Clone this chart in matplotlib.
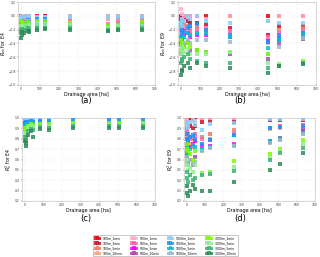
import matplotlib
matplotlib.use("Agg")
import matplotlib.pyplot as plt
import numpy as np

areas = [1, 4, 8, 18, 35, 45, 83, 128, 257, 453, 507, 633]

labels = ["100m_1min", "100m_3min", "100m_5min", "100m_10min",
          "500m_1min", "500m_3min", "500m_5min", "500m_10min",
          "1000m_1min", "1000m_3min", "1000m_5min", "1000m_10min",
          "3000m_1min", "3000m_3min", "3000m_5min", "3000m_10min"]

colors = ["#e8000b", "#c8102e", "#f07860", "#f4a582",
          "#ffb0c8", "#ff69b4", "#ff00ff", "#a050b0",
          "#87cefa", "#1e90ff", "#00c0d0", "#9fb6cd",
          "#7cfc00", "#90ee90", "#3cb371", "#2e8b57"]

rev_e4 = [
    [0.00, 0.00, 0.00, 0.00, 0.00, 0.00, 0.00, 0.00, 0.00, 0.00, 0.00, 0.00],
    [-0.02, -0.01, 0.00, -0.01, 0.00, -0.01, -0.01, 0.00, -0.01, -0.01, -0.02, -0.01],
    [-0.05, -0.04, -0.03, -0.03, -0.02, -0.04, -0.03, -0.02, -0.02, -0.03, -0.10, -0.08],
    [-0.10, -0.08, -0.06, -0.07, -0.05, -0.06, -0.05, -0.04, -0.04, -0.05, -0.12, -0.10],
    [-0.01, 0.00, -0.01, 0.00, -0.01, 0.00, -0.01, -0.01, 0.00, 0.00, 0.00, 0.00],
    [-0.06, -0.05, -0.04, -0.05, -0.04, -0.06, -0.05, -0.04, -0.05, -0.12, -0.08, -0.07],
    [-0.15, -0.12, -0.10, -0.12, -0.10, -0.14, -0.12, -0.11, -0.12, -0.17, -0.15, -0.13],
    [-0.22, -0.18, -0.15, -0.18, -0.16, -0.20, -0.17, -0.15, -0.16, -0.20, -0.18, -0.17],
    [-0.03, -0.02, -0.01, -0.02, 0.00, -0.01, -0.01, -0.02, -0.01, -0.02, -0.01, -0.01],
    [-0.12, -0.10, -0.08, -0.10, -0.06, -0.09, -0.05, -0.04, -0.13, -0.15, -0.13, -0.12],
    [-0.18, -0.15, -0.12, -0.15, -0.12, -0.16, -0.13, -0.12, -0.15, -0.20, -0.17, -0.16],
    [-0.25, -0.20, -0.18, -0.21, -0.19, -0.22, -0.20, -0.18, -0.18, -0.22, -0.20, -0.19],
    [-0.08, -0.10, -0.09, -0.11, -0.07, -0.10, -0.08, -0.07, -0.10, -0.14, -0.13, -0.09],
    [-0.15, -0.16, -0.14, -0.15, -0.13, -0.15, -0.12, -0.12, -0.13, -0.17, -0.15, -0.14],
    [-0.24, -0.22, -0.19, -0.21, -0.18, -0.20, -0.18, -0.17, -0.18, -0.20, -0.19, -0.18],
    [-0.32, -0.28, -0.24, -0.25, -0.22, -0.23, -0.21, -0.19, -0.20, -0.22, -0.21, -0.20],
]

rev_e9 = [
    [0.00, 0.00, 0.00, 0.00, 0.00, 0.00, 0.00, 0.00, 0.00, 0.00, 0.00, 0.00],
    [-0.05, -0.02, 0.00, -0.03, -0.08, -0.10, -0.10, -0.12, -0.18, -0.27, -0.15, -0.15],
    [-0.15, -0.10, -0.08, -0.12, -0.15, -0.18, -0.18, -0.20, -0.22, -0.35, -0.20, -0.18],
    [-0.25, -0.20, -0.18, -0.20, -0.22, -0.25, -0.22, -0.25, -0.25, -0.40, -0.28, -0.22],
    [0.10, 0.02, -0.05, 0.00, -0.02, 0.00, 0.00, -0.05, 0.00, -0.08, 0.00, 0.00],
    [-0.20, -0.15, -0.22, -0.18, -0.15, -0.22, -0.20, -0.18, -0.22, -0.30, -0.25, -0.20],
    [-0.38, -0.32, -0.30, -0.28, -0.25, -0.30, -0.28, -0.28, -0.30, -0.37, -0.33, -0.28],
    [-0.52, -0.45, -0.48, -0.42, -0.38, -0.50, -0.50, -0.52, -0.55, -0.63, -0.40, -0.33],
    [-0.10, -0.05, -0.15, -0.08, 0.00, -0.05, 0.00, -0.08, -0.10, -0.08, -0.10, -0.10],
    [-0.30, -0.25, -0.20, -0.22, -0.18, -0.15, -0.12, -0.20, -0.28, -0.38, -0.28, -0.25],
    [-0.42, -0.35, -0.32, -0.30, -0.25, -0.28, -0.25, -0.25, -0.30, -0.47, -0.35, -0.28],
    [-0.55, -0.48, -0.42, -0.40, -0.35, -0.40, -0.35, -0.35, -0.38, -0.55, -0.45, -0.32],
    [-0.35, -0.40, -0.50, -0.45, -0.40, -0.45, -0.50, -0.52, -0.52, -0.55, -0.70, -0.65],
    [-0.50, -0.45, -0.55, -0.52, -0.48, -0.55, -0.55, -0.55, -0.53, -0.68, -0.70, -0.67],
    [-0.68, -0.62, -0.65, -0.60, -0.55, -0.62, -0.65, -0.68, -0.68, -0.75, -0.72, -0.68],
    [-0.85, -0.78, -0.80, -0.72, -0.68, -0.75, -0.68, -0.72, -0.75, -0.82, -0.73, -0.70],
]

r2_e4 = [
    [1.00, 1.00, 1.00, 1.00, 1.00, 1.00, 1.00, 1.00, 1.00, 1.00, 1.00, 1.00],
    [0.99, 1.00, 0.99, 1.00, 1.00, 1.00, 1.00, 1.00, 0.99, 0.99, 0.99, 0.99],
    [0.98, 0.99, 0.98, 0.99, 0.99, 0.99, 0.99, 0.99, 0.98, 0.98, 0.98, 0.98],
    [0.96, 0.97, 0.96, 0.98, 0.98, 0.98, 0.98, 0.98, 0.97, 0.97, 0.97, 0.97],
    [1.00, 0.99, 1.00, 1.00, 1.00, 1.00, 1.00, 1.00, 1.00, 1.00, 1.00, 1.00],
    [0.97, 0.98, 0.97, 0.98, 0.98, 0.98, 0.98, 0.98, 0.98, 0.98, 0.98, 0.98],
    [0.94, 0.95, 0.93, 0.96, 0.96, 0.96, 0.96, 0.96, 0.96, 0.96, 0.96, 0.96],
    [0.90, 0.92, 0.90, 0.94, 0.94, 0.94, 0.94, 0.94, 0.94, 0.94, 0.94, 0.94],
    [0.99, 0.99, 0.98, 0.99, 0.99, 0.99, 1.00, 0.99, 1.00, 1.00, 1.00, 1.00],
    [0.95, 0.96, 0.94, 0.96, 0.97, 0.96, 0.97, 0.97, 0.98, 0.98, 0.98, 0.98],
    [0.92, 0.93, 0.90, 0.94, 0.95, 0.94, 0.95, 0.95, 0.96, 0.96, 0.96, 0.96],
    [0.88, 0.90, 0.87, 0.92, 0.93, 0.92, 0.93, 0.93, 0.95, 0.95, 0.95, 0.95],
    [0.90, 0.88, 0.86, 0.92, 0.94, 0.93, 0.94, 0.94, 0.95, 0.94, 0.95, 0.95],
    [0.86, 0.85, 0.82, 0.90, 0.92, 0.91, 0.92, 0.92, 0.93, 0.93, 0.93, 0.94],
    [0.82, 0.82, 0.78, 0.87, 0.89, 0.88, 0.91, 0.90, 0.92, 0.92, 0.92, 0.92],
    [0.78, 0.76, 0.73, 0.84, 0.87, 0.82, 0.89, 0.88, 0.90, 0.90, 0.90, 0.90],
]

r2_e9 = [
    [1.00, 1.00, 1.00, 1.00, 1.00, 1.00, 1.00, 1.00, 1.00, 1.00, 1.00, 1.00],
    [0.95, 0.98, 0.96, 0.92, 0.90, 0.92, 0.96, 0.97, 0.96, 0.98, 0.98, 0.98],
    [0.88, 0.90, 0.85, 0.82, 0.80, 0.85, 0.82, 0.85, 0.88, 0.90, 0.92, 0.93],
    [0.80, 0.82, 0.78, 0.75, 0.72, 0.78, 0.75, 0.79, 0.84, 0.89, 0.90, 0.92],
    [0.97, 1.00, 0.94, 0.96, 0.98, 0.97, 1.00, 1.00, 1.00, 1.00, 1.00, 1.00],
    [0.85, 0.88, 0.82, 0.80, 0.82, 0.84, 0.80, 0.80, 0.85, 0.90, 0.91, 0.93],
    [0.72, 0.75, 0.70, 0.72, 0.75, 0.78, 0.73, 0.73, 0.75, 0.78, 0.80, 0.87],
    [0.62, 0.65, 0.58, 0.60, 0.55, 0.62, 0.69, 0.72, 0.74, 0.77, 0.81, 0.88],
    [0.93, 0.95, 0.90, 0.96, 0.97, 0.93, 0.88, 0.94, 0.95, 0.99, 0.99, 0.99],
    [0.80, 0.85, 0.78, 0.82, 0.84, 0.80, 0.75, 0.79, 0.84, 0.90, 0.91, 0.92],
    [0.68, 0.72, 0.65, 0.70, 0.74, 0.72, 0.70, 0.72, 0.74, 0.78, 0.80, 0.86],
    [0.58, 0.62, 0.55, 0.60, 0.56, 0.58, 0.68, 0.71, 0.73, 0.76, 0.79, 0.85],
    [0.70, 0.75, 0.68, 0.65, 0.60, 0.68, 0.47, 0.48, 0.59, 0.65, 0.70, 0.79],
    [0.55, 0.60, 0.50, 0.52, 0.48, 0.55, 0.46, 0.47, 0.53, 0.61, 0.68, 0.75],
    [0.42, 0.48, 0.38, 0.45, 0.40, 0.42, 0.45, 0.46, 0.49, 0.60, 0.66, 0.71],
    [0.28, 0.34, 0.25, 0.30, 0.35, 0.32, 0.30, 0.30, 0.38, 0.50, 0.56, 0.66],
]

W, H = 320, 257
fig = plt.figure(figsize=(W / 100, H / 100), dpi=100)


def box(l, r, t, b):
    return [l / W, 1 - b / H, (r - l) / W, (b - t) / H]


panels = [
    (box(18, 155, 2, 85), rev_e4, "$R_{ev}$ for E4", (-1.0, 0.2), 0.2, "(a)", 86, 100.5),
    (box(178, 316, 2, 85), rev_e9, "$R_{ev}$ for E9", (-1.0, 0.2), 0.2, "(b)", 240, 100.5),
    (box(22, 155, 118, 201), r2_e4, "$R^2_{v}$ for E4", (0.2, 1.0), 0.1, "(c)", 86, 219),
    (box(184, 315, 118, 201), r2_e9, "$R^2_{v}$ for E9", (0.2, 1.0), 0.1, "(d)", 240, 218),
]

handles = None
for rect, data, ylab, ylim, step, cap, cx, cy in panels:
    ax = fig.add_axes(rect)
    hs = []
    for i in range(len(labels)):
        h = ax.scatter(areas, data[i], s=5, marker="s", color=colors[i],
                       alpha=0.85, linewidths=0, label=labels[i], zorder=3)
        hs.append(h)
    handles = hs
    ax.set_xlim(-15, 700)
    ax.set_ylim(*ylim)
    ax.set_xticks(range(0, 701, 100))
    ax.set_yticks(np.round(np.arange(ylim[0], ylim[1] + 1e-9, step), 1))
    ax.tick_params(labelsize=2.2, length=1.0, width=0.3, pad=0.6, colors="#333333")
    ax.grid(True, color="#e6e6e6", linewidth=0.3, linestyle="--")
    for sp in ax.spines.values():
        sp.set_color("#bbbbbb")
        sp.set_linewidth(0.4)
    ax.set_ylabel(ylab, fontsize=3.4, labelpad=0.5)
    ax.set_xlabel("Drainage area [ha]", fontsize=3.4, labelpad=0.3)
    fig.text(cx / W, 1 - cy / H, cap, fontsize=6, ha="center", va="center")

leg = fig.legend(handles=handles, labels=labels, ncol=4, loc="center",
                 bbox_to_anchor=(165.5 / W, 1 - 245.5 / H), fontsize=2.2,
                 scatterpoints=3, markerscale=1.1, frameon=True,
                 handlelength=2.0, handletextpad=0.8, columnspacing=2.6,
                 labelspacing=0.35, borderpad=0.4, fancybox=False)
leg.get_frame().set_linewidth(0.4)
leg.get_frame().set_edgecolor("#888888")

fig.savefig("out.png", dpi=100)
